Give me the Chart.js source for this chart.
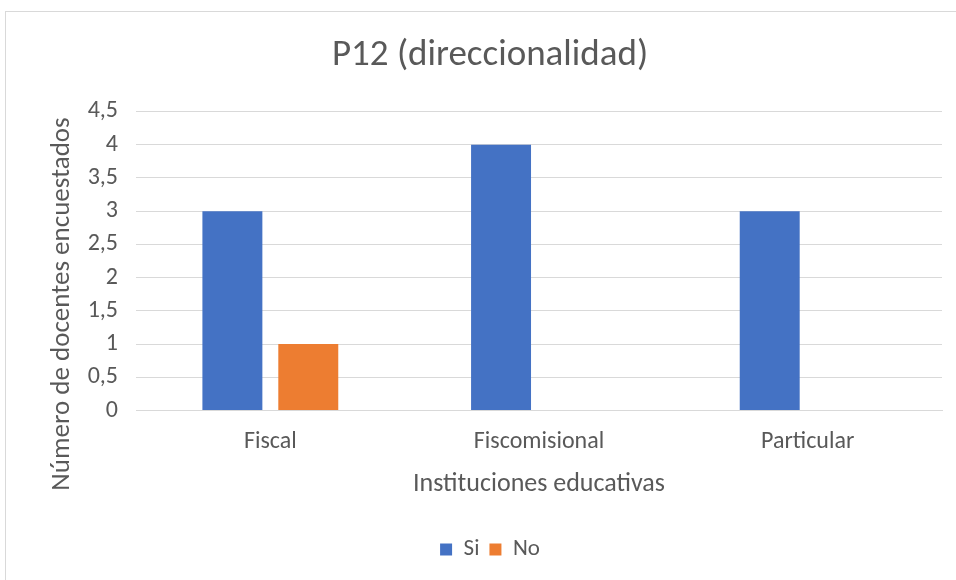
<!DOCTYPE html>
<html>
<head>
<meta charset="utf-8">
<script src="https://cdn.jsdelivr.net/npm/chart.js@4.4.1/dist/chart.umd.min.js"></script>
<style>
  body { margin: 0; background: #fff; }
  #wrap { position: absolute; left: 0; top: 0; width: 956px; height: 580px; }
  #frame { position: absolute; left: 5px; top: 11px; width: 1000px; height: 600px; border: 1px solid #d9d9d9; pointer-events: none; }
</style>
</head>
<body>
<div id="wrap"><canvas id="chart" width="956" height="580"></canvas></div>
<div id="frame"></div>
<script>
const categories = ['Fiscal', 'Fiscomisional', 'Particular'];
const siValues = [3, 4, 3];
const noValues = [1, 0, 0];
const yTicks = [0, 0.5, 1, 1.5, 2, 2.5, 3, 3.5, 4, 4.5];
const yTitle = 'Número de docentes encuestados';

const FONT = "Calibri, Carlito, 'Liberation Sans Narrow', 'Open Sans', sans-serif";
const GREY = '#595959';

// y axis title, drawn where Excel puts it (a bit lower than the plot middle)
const yTitlePlugin = {
    id: 'yTitle',
    afterDraw(chart) {
        const c = chart.ctx;
        c.save();
        c.translate(62, 304);
        c.rotate(-Math.PI / 2);
        c.fillStyle = GREY;
        c.font = `27px ${FONT}`;
        c.textAlign = 'center';
        c.textBaseline = 'middle';
        c.fillText(yTitle, 0, 0);
        c.restore();
    }
};

function createChart() {
    const ctx = document.getElementById('chart').getContext('2d');
    new Chart(ctx, {
        type: 'bar',
        data: {
            labels: categories,
            datasets: [
                { label: 'Si', data: siValues, backgroundColor: '#4472C4' },
                { label: 'No', data: noValues, backgroundColor: '#ED7D31' }
            ]
        },
        plugins: [yTitlePlugin],
        options: {
            responsive: false,
            animation: false,
            layout: { padding: { left: 38, right: 14, top: 34, bottom: 9 } },
            datasets: { bar: { categoryPercentage: 0.565, barPercentage: 0.79 } },
            plugins: {
                title: {
                    display: true,
                    text: 'P12 (direccionalidad)',
                    color: GREY,
                    font: { family: FONT, size: 37, weight: 'normal' },
                    padding: { top: 0, bottom: 33 }
                },
                legend: {
                    position: 'bottom',
                    labels: {
                        color: GREY,
                        font: { family: FONT, size: 23 },
                        boxWidth: 12,
                        boxHeight: 12,
                        padding: 10
                    }
                },
                tooltip: { enabled: false }
            },
            scales: {
                x: {
                    grid: { display: false },
                    border: { color: '#d9d9d9' },
                    ticks: { color: GREY, font: { family: FONT, size: 24, lineHeight: 1.1 }, padding: 10 },
                    title: {
                        display: true,
                        text: 'Instituciones educativas',
                        color: GREY,
                        font: { family: FONT, size: 26, lineHeight: 1 },
                        padding: { top: 6, bottom: 31 }
                    }
                },
                y: {
                    min: 0,
                    max: 4.5,
                    afterBuildTicks: (axis) => { axis.ticks = yTicks.map(v => ({ value: v })); },
                    afterFit: (axis) => { axis.width = 98; },
                    grid: { color: '#d9d9d9', drawTicks: false },
                    border: { display: false },
                    ticks: {
                        color: GREY,
                        font: { family: FONT, size: 24 },
                        padding: 18,
                        autoSkip: false,
                        callback: (v) => String(v).replace('.', ',')
                    }
                }
            }
        }
    });
}

window.addEventListener('load', createChart);
</script>
</body>
</html>
